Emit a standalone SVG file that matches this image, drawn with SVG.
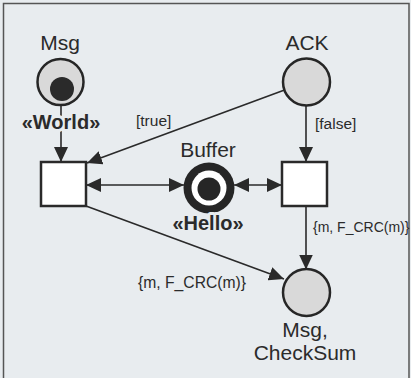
<svg xmlns="http://www.w3.org/2000/svg" width="411" height="378" viewBox="0 0 411 378">
<style>
text{font-family:"Liberation Sans",Arial,sans-serif;fill:#2b2b2b}
.lbl{font-size:21px;text-anchor:middle}
.bold{font-size:20px;font-weight:bold;text-anchor:middle;stroke:#e8ecef;stroke-width:6;paint-order:stroke;stroke-linejoin:round}
.guard{font-size:15.5px}
.place{fill:#d9d9d9;stroke:#262626;stroke-width:2.5}
.trans{fill:#ffffff;stroke:#2a2a2a;stroke-width:2.5}
.arc{fill:none;stroke:#2a2a2a;stroke-width:1.6;marker-end:url(#ah)}
.dbl{marker-start:url(#ah)}
</style>
<defs>
<marker id="ah" markerUnits="userSpaceOnUse" markerWidth="16" markerHeight="14" refX="15" refY="7" orient="auto-start-reverse">
<path d="M0,0 L15,7 L0,14 z" fill="#2a2a2a"/>
</marker>
</defs>
<rect width="411" height="378" fill="#e8ecef"/>
<path d="M3.5,378 V3.5 H409 V378" fill="none" stroke="#555" stroke-width="1.5"/>
<g id="connectors">
<line class="arc" x1="61" y1="105" x2="61" y2="162"/>
<line class="arc" x1="284.5" y1="90" x2="87" y2="163"/>
<line class="arc" x1="306" y1="105.5" x2="306" y2="162"/>
<line class="arc dbl" x1="86" y1="185" x2="184" y2="185"/>
<line class="arc dbl" x1="234" y1="185" x2="282" y2="185"/>
<line class="arc" x1="86" y1="206" x2="284" y2="279"/>
<line class="arc" x1="306" y1="207" x2="306" y2="269.5"/>
<text class="guard" x="136" y="126">[true]</text>
<text class="guard" x="315" y="129">[false]</text>
<text x="313" y="232" font-size="14">{m, F_CRC(m)}</text>
<text x="138" y="288" font-size="15.7">{m, F_CRC(m)}</text>
</g>
<g id="msg">
<text class="lbl" x="60" y="50">Msg</text>
<circle class="place" cx="60.5" cy="82" r="23"/>
<circle cx="62" cy="89" r="12" fill="#2a2a2a"/>
<text class="bold" x="61" y="129">«World»</text>
</g>
<g id="ack">
<text class="lbl" x="307" y="50">ACK</text>
<circle class="place" cx="306.5" cy="82" r="23.5"/>
</g>
<g id="t1">
<rect class="trans" x="41" y="162" width="45" height="44"/>
</g>
<g id="t2">
<rect class="trans" x="282" y="162" width="45" height="44"/>
</g>
<g id="buffer">
<text class="lbl" x="208" y="157">Buffer</text>
<circle cx="209" cy="188" r="25.5" fill="#262626"/>
<circle cx="209" cy="188" r="17.5" fill="#ffffff"/>
<circle cx="209" cy="189" r="11.5" fill="#262626"/>
<text class="bold" x="208" y="230">«Hello»</text>
</g>
<g id="checksum">
<circle class="place" cx="306.5" cy="292.5" r="23.5"/>
<text class="lbl" x="305" y="337">Msg,</text>
<text class="lbl" x="305" y="360">CheckSum</text>
</g>
</svg>
